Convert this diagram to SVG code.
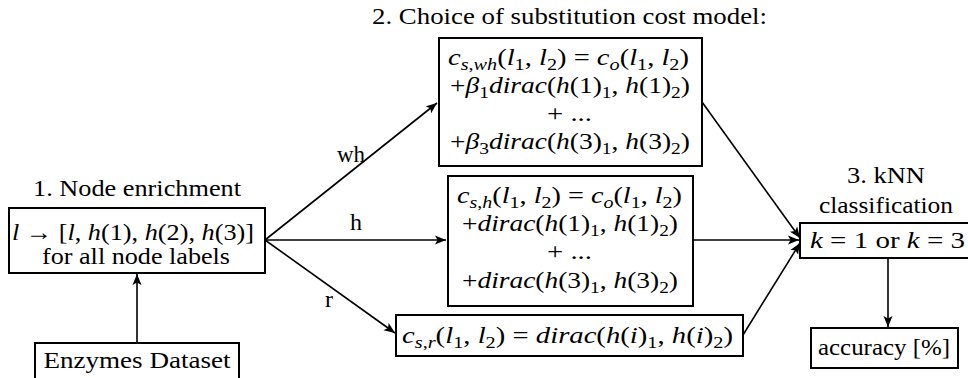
<svg xmlns="http://www.w3.org/2000/svg" width="968" height="378" viewBox="0 0 968 378">
<style>
.t{font-family:"Liberation Serif","Times New Roman",serif;font-size:24px;fill:#000;text-anchor:middle}
.i{font-style:italic}
.s{font-size:17px}
.box{fill:#fff;stroke:#000;stroke-width:2}
.edge{fill:none;stroke:#000;stroke-width:1.6}
</style>
<defs>
<marker id="ah" markerWidth="12" markerHeight="10" refX="11" refY="5" orient="auto" markerUnits="userSpaceOnUse">
<path d="M0,0.5 L11,5 L0,9.5 L2.5,5 Z" fill="#000"/>
</marker>
</defs>
<rect width="968" height="378" fill="#fff"/>
<g id="connectors">
<line class="edge" x1="137" y1="343" x2="137" y2="274" marker-end="url(#ah)"/>
<line class="edge" x1="265" y1="240" x2="437" y2="103" marker-end="url(#ah)"/>
<line class="edge" x1="265" y1="240" x2="446" y2="240" marker-end="url(#ah)"/>
<line class="edge" x1="265" y1="240" x2="395" y2="333" marker-end="url(#ah)"/>
<line class="edge" x1="702" y1="102" x2="800" y2="238" marker-end="url(#ah)"/>
<line class="edge" x1="693" y1="240" x2="799" y2="240" marker-end="url(#ah)"/>
<line class="edge" x1="743" y1="335" x2="800" y2="243" marker-end="url(#ah)"/>
<line class="edge" x1="888" y1="258" x2="888" y2="327" marker-end="url(#ah)"/>
<text class="t" x="351" y="162" textLength="28" lengthAdjust="spacingAndGlyphs">wh</text>
<text class="t" x="356" y="230">h</text>
<text class="t" x="329" y="307">r</text>
</g>
<g id="node-enrichment">
<text class="t" x="137" y="196" textLength="208" lengthAdjust="spacingAndGlyphs">1. Node enrichment</text>
<rect class="box" x="9" y="208" width="256" height="65"/>
<text class="t" x="133" y="240" textLength="242" lengthAdjust="spacingAndGlyphs"><tspan class="i">l</tspan> → [<tspan class="i">l</tspan>, <tspan class="i">h</tspan>(1), <tspan class="i">h</tspan>(2), <tspan class="i">h</tspan>(3)]</text>
<text class="t" x="136" y="264" textLength="188" lengthAdjust="spacingAndGlyphs">for all node labels</text>
</g>
<g id="enzymes-dataset">
<rect class="box" x="35" y="343" width="204" height="45"/>
<text class="t" x="137" y="368" textLength="187" lengthAdjust="spacingAndGlyphs">Enzymes Dataset</text>
</g>
<g id="cost-wh">
<text class="t" x="569.5" y="24" textLength="395" lengthAdjust="spacingAndGlyphs">2. Choice of substitution cost model:</text>
<rect class="box" x="439" y="38" width="263" height="128"/>
<text class="t" x="568.5" y="65" textLength="241" lengthAdjust="spacingAndGlyphs"><tspan class="i">c</tspan><tspan class="s" dy="5"><tspan class="i">s</tspan>,<tspan class="i">wh</tspan></tspan><tspan dy="-5">(</tspan><tspan class="i">l</tspan><tspan class="s" dy="5">1</tspan><tspan dy="-5">, </tspan><tspan class="i">l</tspan><tspan class="s" dy="5">2</tspan><tspan dy="-5">) = </tspan><tspan class="i">c</tspan><tspan class="s i" dy="5">o</tspan><tspan dy="-5">(</tspan><tspan class="i">l</tspan><tspan class="s" dy="5">1</tspan><tspan dy="-5">, </tspan><tspan class="i">l</tspan><tspan class="s" dy="5">2</tspan><tspan dy="-5">)</tspan></text>
<text class="t" x="570" y="93" textLength="240" lengthAdjust="spacingAndGlyphs">+<tspan class="i">β</tspan><tspan class="s" dy="5">1</tspan><tspan class="i" dy="-5">dirac</tspan>(<tspan class="i">h</tspan>(1)<tspan class="s" dy="5">1</tspan><tspan dy="-5">, </tspan><tspan class="i">h</tspan>(1)<tspan class="s" dy="5">2</tspan><tspan dy="-5">)</tspan></text>
<text class="t" x="569.5" y="121" textLength="45" lengthAdjust="spacingAndGlyphs">+ ...</text>
<text class="t" x="570" y="149" textLength="240" lengthAdjust="spacingAndGlyphs">+<tspan class="i">β</tspan><tspan class="s" dy="5">3</tspan><tspan class="i" dy="-5">dirac</tspan>(<tspan class="i">h</tspan>(3)<tspan class="s" dy="5">1</tspan><tspan dy="-5">, </tspan><tspan class="i">h</tspan>(3)<tspan class="s" dy="5">2</tspan><tspan dy="-5">)</tspan></text>
</g>
<g id="cost-h">
<rect class="box" x="448" y="176" width="245" height="130"/>
<text class="t" x="569.5" y="203" textLength="225" lengthAdjust="spacingAndGlyphs"><tspan class="i">c</tspan><tspan class="s" dy="5"><tspan class="i">s</tspan>,<tspan class="i">h</tspan></tspan><tspan dy="-5">(</tspan><tspan class="i">l</tspan><tspan class="s" dy="5">1</tspan><tspan dy="-5">, </tspan><tspan class="i">l</tspan><tspan class="s" dy="5">2</tspan><tspan dy="-5">) = </tspan><tspan class="i">c</tspan><tspan class="s i" dy="5">o</tspan><tspan dy="-5">(</tspan><tspan class="i">l</tspan><tspan class="s" dy="5">1</tspan><tspan dy="-5">, </tspan><tspan class="i">l</tspan><tspan class="s" dy="5">2</tspan><tspan dy="-5">)</tspan></text>
<text class="t" x="570" y="231" textLength="216" lengthAdjust="spacingAndGlyphs">+<tspan class="i">dirac</tspan>(<tspan class="i">h</tspan>(1)<tspan class="s" dy="5">1</tspan><tspan dy="-5">, </tspan><tspan class="i">h</tspan>(1)<tspan class="s" dy="5">2</tspan><tspan dy="-5">)</tspan></text>
<text class="t" x="569.5" y="259" textLength="45" lengthAdjust="spacingAndGlyphs">+ ...</text>
<text class="t" x="570" y="288" textLength="216" lengthAdjust="spacingAndGlyphs">+<tspan class="i">dirac</tspan>(<tspan class="i">h</tspan>(3)<tspan class="s" dy="5">1</tspan><tspan dy="-5">, </tspan><tspan class="i">h</tspan>(3)<tspan class="s" dy="5">2</tspan><tspan dy="-5">)</tspan></text>
</g>
<g id="cost-r">
<rect class="box" x="396" y="315" width="347" height="41"/>
<text class="t" x="567.5" y="343" textLength="331" lengthAdjust="spacingAndGlyphs"><tspan class="i">c</tspan><tspan class="s" dy="5"><tspan class="i">s</tspan>,<tspan class="i">r</tspan></tspan><tspan dy="-5">(</tspan><tspan class="i">l</tspan><tspan class="s" dy="5">1</tspan><tspan dy="-5">, </tspan><tspan class="i">l</tspan><tspan class="s" dy="5">2</tspan><tspan dy="-5">) = </tspan><tspan class="i">dirac</tspan>(<tspan class="i">h</tspan>(<tspan class="i">i</tspan>)<tspan class="s" dy="5">1</tspan><tspan dy="-5">, </tspan><tspan class="i">h</tspan>(<tspan class="i">i</tspan>)<tspan class="s" dy="5">2</tspan><tspan dy="-5">)</tspan></text>
</g>
<g id="knn">
<text class="t" x="886" y="183" textLength="78" lengthAdjust="spacingAndGlyphs">3. kNN</text>
<text class="t" x="886" y="213" textLength="134" lengthAdjust="spacingAndGlyphs">classification</text>
<rect class="box" x="800" y="223" width="170" height="35"/>
<text class="t" x="887.5" y="248" textLength="155" lengthAdjust="spacingAndGlyphs"><tspan class="i">k</tspan> = 1 or <tspan class="i">k</tspan> = 3</text>
</g>
<g id="accuracy">
<rect class="box" x="811" y="328" width="147" height="40"/>
<text class="t" x="884" y="355" textLength="132" lengthAdjust="spacingAndGlyphs">accuracy [%]</text>
</g>
</svg>
